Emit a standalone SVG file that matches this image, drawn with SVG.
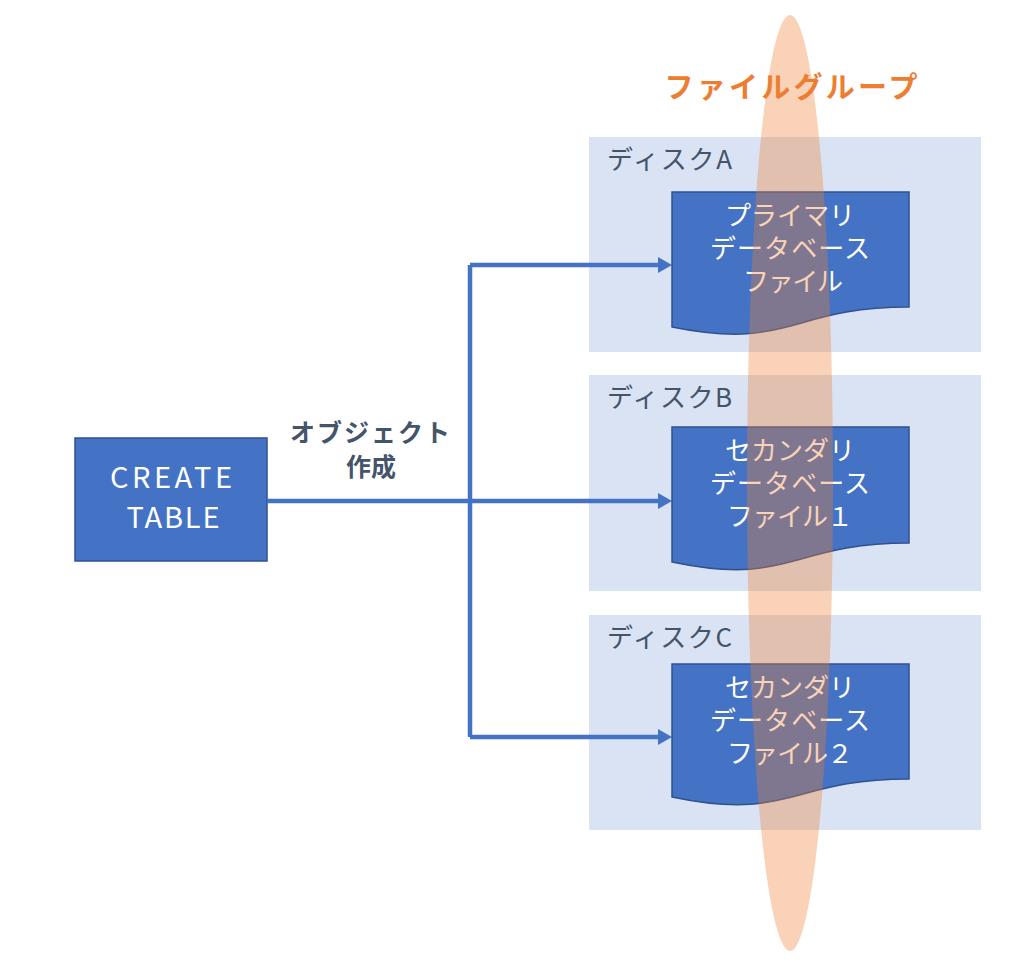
<svg xmlns="http://www.w3.org/2000/svg" width="1024" height="976" viewBox="0 0 1024 976">
<defs>
<style>
.disk{fill:#DAE3F3}
.dlabel{font-family:"Noto Sans CJK JP","Noto Sans",sans-serif;font-size:26px;fill:#44546A}
.doc{fill:#4472C4;stroke:#2F528F;stroke-width:1.5}
.doct{font-family:"Noto Sans CJK JP","Noto Sans",sans-serif;font-size:26px;fill:#FFFFFF;text-anchor:middle}
.conn{fill:none;stroke:#4472C4;stroke-width:4.5}
</style>
<marker id="arr" markerUnits="userSpaceOnUse" markerWidth="15" markerHeight="16" refX="4" refY="8" orient="auto">
<path d="M0,0 L14,8 L0,16 Z" fill="#4472C4"/>
</marker>
</defs>
<rect width="1024" height="976" fill="#FFFFFF"/>
<g id="diskA">
<rect class="disk" x="589" y="137" width="392" height="215"/>
<text class="dlabel" x="607" y="169" textLength="125" lengthAdjust="spacing">ディスクA</text>
</g>
<g id="diskB">
<rect class="disk" x="589" y="375" width="392" height="216"/>
<text class="dlabel" x="607" y="407" textLength="125" lengthAdjust="spacing">ディスクB</text>
</g>
<g id="diskC">
<rect class="disk" x="589" y="615" width="392" height="215"/>
<text class="dlabel" x="607" y="647" textLength="125" lengthAdjust="spacing">ディスクC</text>
</g>
<g id="create-table">
<rect x="75" y="438" width="192" height="123" fill="#4472C4" stroke="#2F528F" stroke-width="1.5"/>
<text font-family="Noto Sans CJK JP,Noto Sans,sans-serif" font-size="29" fill="#FFFFFF" text-anchor="middle"><tspan x="171" y="488" textLength="122" lengthAdjust="spacing">CREATE</tspan><tspan x="173" y="528" textLength="93" lengthAdjust="spacing">TABLE</tspan></text>
</g>
<g id="connectors">
<path class="conn" d="M267,501 H470"/>
<path class="conn" d="M470,265 V737"/>
<path class="conn" d="M470,265 H662" marker-end="url(#arr)"/>
<path class="conn" d="M470,501 H662" marker-end="url(#arr)"/>
<path class="conn" d="M470,737 H662" marker-end="url(#arr)"/>
<text font-family="Noto Sans CJK JP,Noto Sans,sans-serif" font-size="25" font-weight="bold" fill="#44546A" text-anchor="middle"><tspan x="370" y="442" textLength="160" lengthAdjust="spacing">オブジェクト</tspan><tspan x="371" y="476">作成</tspan></text>
</g>
<g id="docA">
<path class="doc" d="M672,192 H909 V307 C790.5,307 790.5,351 672,327 Z"/>
<text class="doct"><tspan x="790" y="225" textLength="130" lengthAdjust="spacing">プライマリ</tspan><tspan x="790" y="258" textLength="160" lengthAdjust="spacing">データベース</tspan><tspan x="793" y="291" textLength="100" lengthAdjust="spacing">ファイル</tspan></text>
</g>
<g id="docB">
<path class="doc" d="M672,427 H909 V543 C790.5,543 790.5,587 672,562 Z"/>
<text class="doct"><tspan x="790" y="460" textLength="130" lengthAdjust="spacing">セカンダリ</tspan><tspan x="790" y="493" textLength="160" lengthAdjust="spacing">データベース</tspan><tspan x="790" y="526" textLength="126" lengthAdjust="spacing">ファイル１</tspan></text>
</g>
<g id="docC">
<path class="doc" d="M672,664 H909 V779 C790.5,779 790.5,822 672,797 Z"/>
<text class="doct"><tspan x="790" y="697" textLength="130" lengthAdjust="spacing">セカンダリ</tspan><tspan x="790" y="730" textLength="160" lengthAdjust="spacing">データベース</tspan><tspan x="790" y="763" textLength="126" lengthAdjust="spacing">ファイル２</tspan></text>
</g>
<g id="filegroup">
<ellipse cx="790" cy="483" rx="43" ry="468" fill="#ED7D31" fill-opacity="0.35"/>
<text x="791" y="98" font-family="Noto Sans CJK JP,Noto Sans,sans-serif" font-size="29" font-weight="bold" fill="#ED7D31" text-anchor="middle" textLength="253" lengthAdjust="spacing">ファイルグループ</text>
</g>
</svg>
